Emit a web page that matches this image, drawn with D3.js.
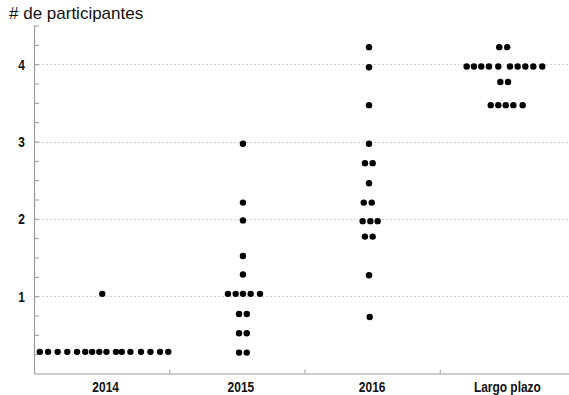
<!DOCTYPE html>
<html>
<head>
<meta charset="utf-8">
<script src="https://cdn.jsdelivr.net/npm/d3@7"></script>
<style>
  html, body { margin: 0; padding: 0; background: #fff; }
  svg { display: block; }
</style>
</head>
<body>
<svg id="chart" width="569" height="395"></svg>
<script>
// Categories along the horizontal axis
const categories = ["2014", "2015", "2016", "Largo plazo"];

// Each participant's answer: position along the category axis and value
const x2014 = [0.043, 0.104, 0.175, 0.246, 0.318, 0.379, 0.430, 0.483, 0.536, 0.606, 0.649, 0.713, 0.791, 0.861, 0.932, 0.993, 0.505];
const y2014 = [0.28, 0.28, 0.28, 0.28, 0.28, 0.28, 0.28, 0.28, 0.28, 0.28, 0.28, 0.28, 0.28, 0.28, 0.28, 0.28, 1.03];

const x2015 = [1.545, 1.545, 1.545, 1.545, 1.545, 1.434, 1.491, 1.545, 1.602, 1.671, 1.516, 1.573, 1.516, 1.573, 1.516, 1.573];
const y2015 = [2.97, 2.21, 1.98, 1.52, 1.28, 1.03, 1.03, 1.03, 1.03, 1.03, 0.77, 0.77, 0.52, 0.52, 0.27, 0.27];

const x2016 = [2.477, 2.477, 2.477, 2.477, 2.447, 2.504, 2.477, 2.438, 2.497, 2.430, 2.487, 2.541, 2.447, 2.504, 2.477, 2.482];
const y2016 = [4.22, 3.96, 3.47, 2.97, 2.72, 2.72, 2.46, 2.21, 2.21, 1.97, 1.97, 1.97, 1.77, 1.77, 1.27, 0.73];

const xLargo = [3.440, 3.499, 3.199, 3.253, 3.307, 3.364, 3.433, 3.519, 3.576, 3.633, 3.692, 3.758, 3.448, 3.505, 3.377, 3.433, 3.488, 3.544, 3.613];
const yLargo = [4.22, 4.22, 3.97, 3.97, 3.97, 3.97, 3.97, 3.97, 3.97, 3.97, 3.97, 3.97, 3.77, 3.77, 3.47, 3.47, 3.47, 3.47, 3.47];

// Axis ticks
const yLabelTicks = [1, 2, 3, 4];
const yMinorTicks = d3.range(0.25, 4.51, 0.25);
const xBoundaryTicks = [1, 2, 3];

const yTitle = "# de participantes";

// ---- layout ----
const svg = d3.select("#chart");
const plotLeft = 34, plotRight = 575, plotTop = 25.5, plotBottom = 373.5;
const narrow = 0.77;       // horizontal squeeze for the condensed bold labels
const axisColor = "#9a9a9a";

const x = d3.scaleLinear().domain([0, categories.length]).range([plotLeft, plotRight]);
const y = d3.scaleLinear().domain([0, 4.5]).range([plotBottom, plotTop]);

// dotted horizontal gridlines at the labelled values
svg.append("g")
  .selectAll("line")
  .data(yLabelTicks)
  .join("line")
  .attr("x1", plotLeft).attr("x2", plotRight)
  .attr("y1", d => Math.round(y(d)) + 0.5).attr("y2", d => Math.round(y(d)) + 0.5)
  .attr("stroke", "#cfcfcf")
  .attr("stroke-width", 1)
  .attr("stroke-dasharray", "2,2");

// y axis: short inward ticks every quarter
const yAxisG = svg.append("g")
  .attr("transform", `translate(${plotLeft},0)`)
  .call(d3.axisRight(y).tickValues(yMinorTicks).tickSize(5).tickFormat(""));
yAxisG.select(".domain").attr("stroke", axisColor).attr("stroke-width", 1.2)
  .attr("d", `M0.5,${plotTop}V${plotBottom}`);
yAxisG.selectAll(".tick line").attr("stroke", axisColor);

// y labels
svg.append("g")
  .selectAll("text")
  .data(yLabelTicks)
  .join("text")
  .attr("transform", d => `translate(25,${y(d) + 5.5}) scale(${narrow},1)`)
  .attr("text-anchor", "end")
  .attr("font-family", "'Liberation Sans', Arial, sans-serif")
  .attr("font-weight", "bold")
  .attr("font-size", 15.5)
  .attr("fill", "#111")
  .text(d => d);

// x axis: boundary ticks pointing up
const xAxisG = svg.append("g")
  .attr("transform", `translate(0,${Math.round(y(0)) - 0.5})`)
  .call(d3.axisTop(x).tickValues(xBoundaryTicks).tickSize(4).tickFormat(""));
xAxisG.select(".domain").attr("stroke", axisColor).attr("stroke-width", 1.2)
  .attr("d", `M${plotLeft},0.5H${plotRight}`);
xAxisG.selectAll(".tick line").attr("stroke", axisColor);

// category labels centred in each band
svg.append("g")
  .selectAll("text")
  .data(categories)
  .join("text")
  .attr("transform", (d, i) => `translate(${x(i + 0.5) + (i < 2 ? 4 : 0)},391.5) scale(${narrow},1)`)
  .attr("text-anchor", "middle")
  .attr("font-family", "'Liberation Sans', Arial, sans-serif")
  .attr("font-weight", "bold")
  .attr("font-size", 15.5)
  .attr("fill", "#111")
  .text(d => d);

// axis title
svg.append("text")
  .attr("x", 9).attr("y", 19)
  .attr("font-family", "'Liberation Sans', Arial, sans-serif")
  .attr("font-size", 17)
  .attr("fill", "#111")
  .text(yTitle);

// dots
const groups = [
  [x2014, y2014], [x2015, y2015], [x2016, y2016], [xLargo, yLargo]
];
const points = groups.flatMap(([xs, ys]) => xs.map((xv, i) => ({ x: xv, y: ys[i] })));

svg.append("g")
  .selectAll("circle")
  .data(points)
  .join("circle")
  .attr("cx", d => x(d.x))
  .attr("cy", d => y(d.y))
  .attr("r", 3.2)
  .attr("fill", "#000");
</script>
</body>
</html>
